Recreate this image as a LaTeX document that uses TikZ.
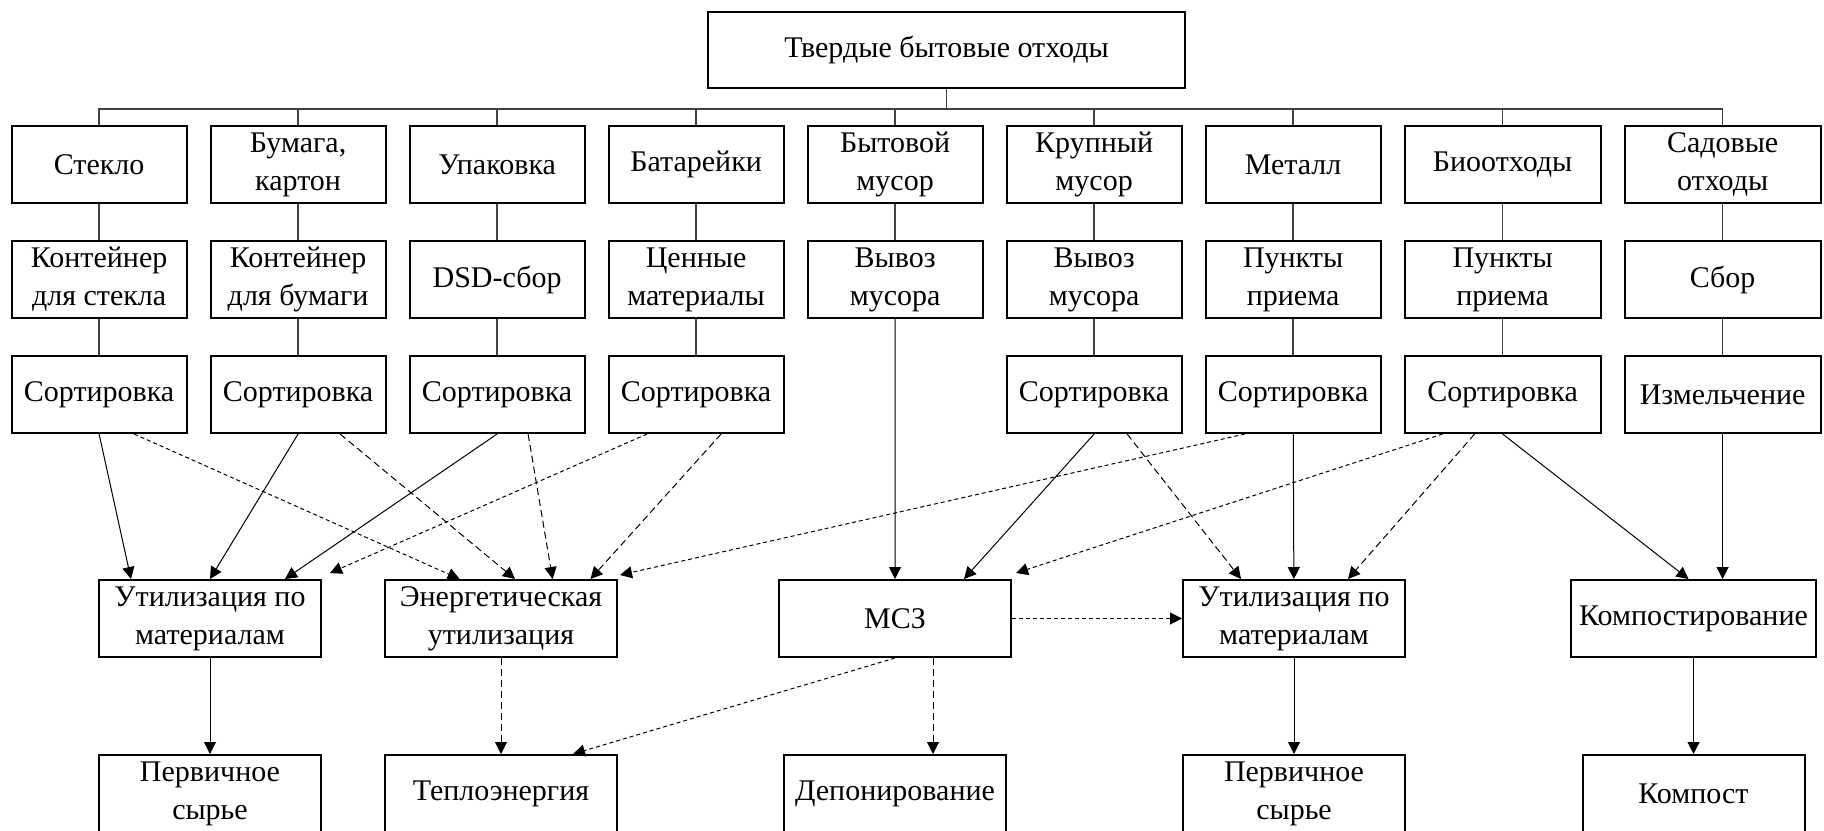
\documentclass[tikz,border=0pt]{standalone}
\usepackage{fontspec}
\setmainfont{Liberation Serif}
\usepackage{tikz}
\usetikzlibrary{positioning,arrows.meta}

\begin{document}
\begin{tikzpicture}[
    x=0.5pt, y=-0.5pt,   % one unit = one pixel of the sheet, y runs down
    node distance=18pt and 11pt,
    font=\fontsize{15}{19}\selectfont,
    box/.style = {draw, line width=1pt, align=center, minimum width=87.5pt, minimum height=38.5pt, inner xsep=4pt, inner ysep=1pt},
    wide/.style = {box, minimum width=98pt},
    res/.style = {box, minimum width=111pt},
    link/.style = {black!75, line width=0.7pt},
    flow/.style = {-{Triangle[length=6pt,width=6pt]}, line width=0.5pt},
    dotflow/.style = {flow, dash pattern=on 2pt off 1.5pt},
    dashflow/.style = {flow, dash pattern=on 3.5pt off 2pt}
  ]
    \useasboundingbox (0,0) rectangle (1824,830);

    \node[box, minimum width=238.5pt, minimum height=38pt] (tbo) at (946.5,50) {Твердые бытовые отходы};

    % kinds of waste
    \node[box] (glass) at (99.1,164.5) {Стекло};
    \node[box, right=of glass] (paper) {Бумага,\\ картон};
    \node[box, right=of paper] (pack) {Упаковка};
    \node[box, right=of pack] (batt) {Батарейки};
    \node[box, right=of batt] (house) {Бытовой\\ мусор};
    \node[box, right=of house] (bulky) {Крупный\\ мусор};
    \node[box, right=of bulky] (metal) {Металл};
    \node[wide, right=of metal] (bio) {Биоотходы};
    \node[wide, right=of bio] (garden) {Садовые\\ отходы};

    % collection
    \node[box, below=of glass] (glassbin) {Контейнер\\ для стекла};
    \node[box, below=of paper] (paperbin) {Контейнер\\ для бумаги};
    \node[box, below=of pack] (dsd) {DSD-сбор};
    \node[box, below=of batt] (valuable) {Ценные\\ материалы};
    \node[box, below=of house] (haul1) {Вывоз\\ мусора};
    \node[box, below=of bulky] (haul2) {Вывоз\\ мусора};
    \node[box, below=of metal] (point1) {Пункты\\ приема};
    \node[wide, below=of bio] (point2) {Пункты\\ приема};
    \node[wide, below=of garden] (collect) {Сбор};

    % sorting
    \node[box, below=of glassbin] (sort1) {Сортировка};
    \node[box, below=of paperbin] (sort2) {Сортировка};
    \node[box, below=of dsd] (sort3) {Сортировка};
    \node[box, below=of valuable] (sort4) {Сортировка};
    \node[box, below=of haul2] (sort6) {Сортировка};
    \node[box, below=of point1] (sort7) {Сортировка};
    \node[wide, below=of point2] (sort8) {Сортировка};
    \node[wide, below=of collect] (shred) {Измельчение};

    % treatment
    \node[res] (matA) at (210,618.5) {Утилизация по\\ материалам};
    \node[res, minimum width=116pt] (energy) at (501,618.5) {Энергетическая\\ утилизация};
    \node[res, minimum width=116pt] (msz) at (895,618.5) {МСЗ};
    \node[res] (matB) at (1294,618.5) {Утилизация по\\ материалам};
    \node[box] (compost) at (1693.5,618.5) {Компостирование};

    % products
    \node[res, below=48pt of matA] (rawA) {Первичное\\ сырье};
    \node[res, minimum width=116pt, below=48pt of energy] (heat) {Теплоэнергия};
    \node[res, below=48pt of msz] (landfill) {Депонирование};
    \node[res, below=48pt of matB] (rawB) {Первичное\\ сырье};
    \node[res, below=48pt of compost] (compostout) {Компост};

    \foreach \n in {glass,paper,pack,batt,house,bulky,metal,bio,garden}
      \draw[link] (tbo.south) -- ++(0,20) -| (\n.north);
    \foreach \a/\b in {glass/glassbin, glassbin/sort1, paper/paperbin, paperbin/sort2,
                       pack/dsd, dsd/sort3, batt/valuable, valuable/sort4, house/haul1,
                       bulky/haul2, haul2/sort6, metal/point1, point1/sort7,
                       bio/point2, point2/sort8, garden/collect, collect/shred}
      \draw[link] (\a) -- (\b);

    % solid flows
    \draw[flow] (sort1.south) -- ([xshift=-39.5pt]matA.north);
    \draw[flow] (sort2.south) -- (matA.north);
    \draw[flow] (sort3.south) -- ([xshift=37.5pt]matA.north);
    \draw[flow] (haul1) -- (msz);
    \draw[flow] (sort6.south) -- ([xshift=34.5pt]msz.north);
    \draw[flow] (sort7) -- (matB);
    \draw[flow] (sort8.south) -- ([xshift=-2.5pt]compost.north);
    \draw[flow] (shred.south) -- (shred.south |- compost.north);
    \draw[flow] (matA) -- (rawA);
    \draw[flow] (matB) -- (rawB);
    \draw[flow] (compost) -- (compostout);

    % dashed flows
    \draw[dotflow] ([xshift=17.5pt]sort1.south) -- ([xshift=-20.7pt]energy.north);
    \draw[dashflow] ([xshift=21pt]sort2.south) -- ([xshift=7pt]energy.north);
    \draw[dashflow] ([xshift=15.5pt]sort3.south) -- ([xshift=25.8pt]energy.north);
    \draw[dotflow] ([xshift=-24.5pt]sort4.south) -- ([xshift=4pt,yshift=3pt]matA.north east);
    \draw[dashflow] ([xshift=12.5pt]sort4.south) -- ([xshift=44.75pt]energy.north);
    \draw[dotflow] ([xshift=-24pt]sort7.south) -- ([xshift=1pt,yshift=2pt]energy.north east);
    \draw[dashflow] ([xshift=16.5pt]sort6.south) -- ([xshift=-26.5pt]matB.north);
    \draw[dotflow] ([xshift=-30pt]sort8.south) -- ([xshift=2pt,yshift=3pt]msz.north east);
    \draw[dashflow] ([xshift=-14pt]sort8.south) -- ([xshift=27pt]matB.north);
    \draw[dotflow] (msz) -- (matB);
    \draw[dotflow] (msz.south) -- ([xshift=36pt]heat.north);
    \draw[dashflow] ([xshift=19pt]msz.south) -- ([xshift=19pt]msz.south |- landfill.north);
    \draw[dashflow] (energy) -- (heat);
  \end{tikzpicture}
\end{document}
